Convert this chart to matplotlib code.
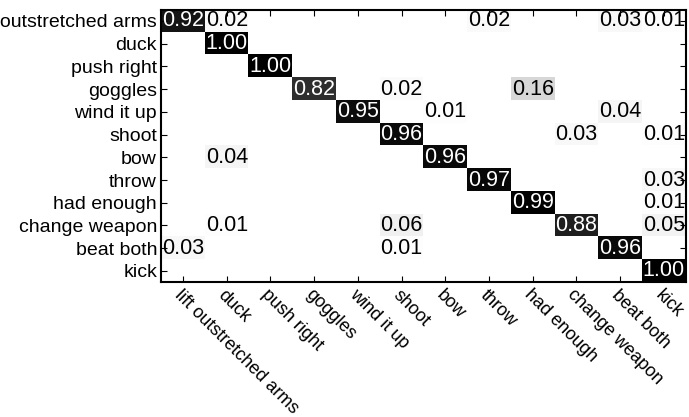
import numpy as np
import matplotlib
matplotlib.use("Agg")
import matplotlib.pyplot as plt

plt.rcParams['font.family'] = ['Liberation Sans', 'DejaVu Sans']

# Class names (rows = true, columns = predicted)
classes = ["lift outstretched arms", "duck", "push right", "goggles", "wind it up",
           "shoot", "bow", "throw", "had enough", "change weapon", "beat both", "kick"]

# Non-zero confusion values per row: (column index, value)
row_lift = [(0, 0.92), (1, 0.02), (7, 0.02), (10, 0.03), (11, 0.01)]
row_duck = [(1, 1.00)]
row_push = [(2, 1.00)]
row_goggles = [(3, 0.82), (5, 0.02), (8, 0.16)]
row_wind = [(4, 0.95), (6, 0.01), (10, 0.04)]
row_shoot = [(5, 0.96), (9, 0.03), (11, 0.01)]
row_bow = [(1, 0.04), (6, 0.96)]
row_throw = [(7, 0.97), (11, 0.03)]
row_enough = [(8, 0.99), (11, 0.01)]
row_change = [(1, 0.01), (5, 0.06), (9, 0.88), (11, 0.05)]
row_beat = [(0, 0.03), (5, 0.01), (10, 0.96)]
row_kick = [(11, 1.00)]

rows = [row_lift, row_duck, row_push, row_goggles, row_wind, row_shoot,
        row_bow, row_throw, row_enough, row_change, row_beat, row_kick]

n = len(classes)
cm = np.zeros((n, n))
for i, r in enumerate(rows):
    for j, v in r:
        cm[i, j] = v

fig = plt.figure(figsize=(6.89, 4.17), dpi=100)
ax = fig.add_axes([0.234, 0.323, 0.761, 0.654])
ax.imshow(cm, cmap="gray_r", vmin=0, vmax=1, aspect="auto", interpolation="nearest")

for i in range(n):
    for j in range(n):
        v = cm[i, j]
        if v > 0:
            ax.text(j, i, "%.2f" % v, ha="center", va="center", fontsize=15.5,
                    color="white" if v > 0.5 else "black")

ax.set_xticks(range(n))
ax.set_yticks(range(n))
ax.set_yticklabels(classes, fontsize=14)
ax.set_xticklabels(classes, fontsize=13, rotation=-45, ha="left", va="top",
                   rotation_mode="anchor")
ax.tick_params(direction="in", length=4, width=0.8, top=True, right=True, pad=3)
for s in ax.spines.values():
    s.set_linewidth(1.5)

fig.savefig("out.png", dpi=100)
